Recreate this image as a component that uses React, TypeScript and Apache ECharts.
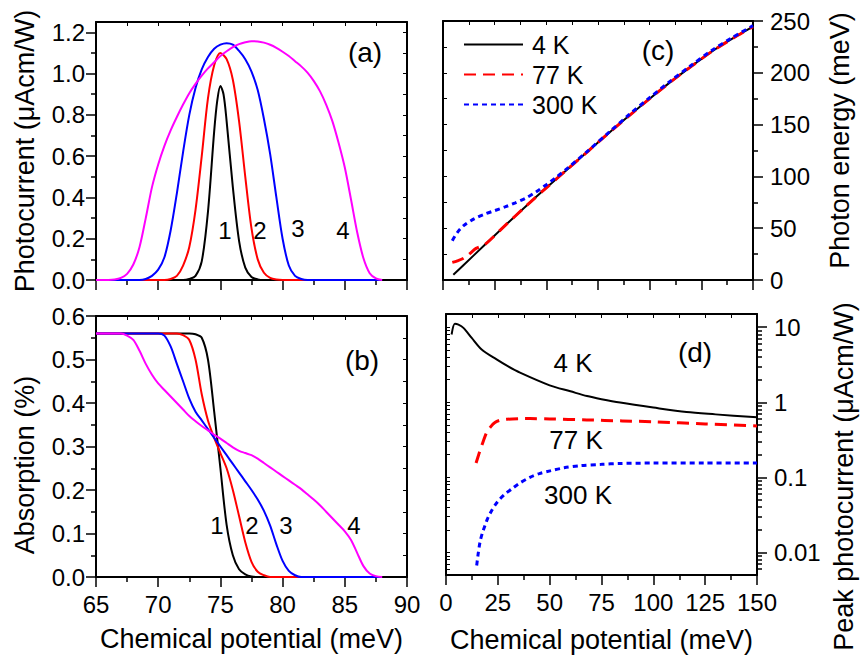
import React, { useEffect, useRef } from 'react';
import * as echarts from 'echarts';

const FONT = '"Liberation Sans", Arial, sans-serif';

// ---------- tick values ----------
const X_AB_MAJOR = [65, 70, 75, 80, 85, 90];
const X_AB_MINOR = [67.5, 72.5, 77.5, 82.5, 87.5];
const Y_A_MAJOR = [0, 0.2, 0.4, 0.6, 0.8, 1.0, 1.2];
const Y_A_MINOR = [0.1, 0.3, 0.5, 0.7, 0.9, 1.1];
const Y_B_MAJOR = [0, 0.1, 0.2, 0.3, 0.4, 0.5, 0.6];
const Y_B_MINOR = [0.05, 0.15, 0.25, 0.35, 0.45, 0.55];
const X_CD_MAJOR = [0, 25, 50, 75, 100, 125, 150];
const X_CD_MINOR = [12.5, 37.5, 62.5, 87.5, 112.5, 137.5];
const Y_C_MAJOR = [0, 50, 100, 150, 200, 250];
const Y_C_MINOR = [25, 75, 125, 175, 225];
const Y_D_MAJOR = [0.01, 0.1, 1, 10];
const Y_D_MINOR = [
  0.006, 0.007, 0.008, 0.009,
  0.02, 0.03, 0.04, 0.05, 0.06, 0.07, 0.08, 0.09,
  0.2, 0.3, 0.4, 0.5, 0.6, 0.7, 0.8, 0.9,
  2, 3, 4, 5, 6, 7, 8, 9,
];

// ---------- panel (a): photocurrent vs chemical potential ----------
const A1 = [[65, 0], [72, 0], [72.5, 0.005], [73, 0.02], [73.5, 0.09], [74, 0.33], [74.5, 0.72], [74.75, 0.87], [75, 0.94], [75.25, 0.9], [75.5, 0.77], [76, 0.45], [76.5, 0.19], [77, 0.06], [77.5, 0.015], [78, 0.003], [78.5, 0], [88, 0]];
const A2 = [[65, 0], [70.5, 0], [71, 0.005], [71.5, 0.02], [72, 0.07], [72.5, 0.16], [73, 0.34], [73.5, 0.6], [74, 0.88], [74.5, 1.04], [75, 1.1], [75.5, 1.07], [76, 0.97], [76.5, 0.77], [77, 0.5], [77.5, 0.25], [78, 0.1], [78.5, 0.035], [79, 0.01], [79.5, 0.002], [80, 0], [88, 0]];
const A3 = [[65, 0], [68.5, 0], [69, 0.005], [69.5, 0.02], [70, 0.05], [70.5, 0.11], [71, 0.24], [71.5, 0.42], [72, 0.62], [72.5, 0.8], [73, 0.93], [73.5, 1.02], [74, 1.08], [74.5, 1.12], [75, 1.14], [75.5, 1.147], [76, 1.14], [76.5, 1.11], [77, 1.07], [77.5, 1.01], [78, 0.92], [78.5, 0.78], [79, 0.61], [79.5, 0.4], [80, 0.2], [80.5, 0.07], [81, 0.02], [81.5, 0.005], [82, 0], [88, 0]];
const A4 = [[65, 0], [66, 0], [66.5, 0.002], [67, 0.01], [67.5, 0.03], [68, 0.075], [68.5, 0.16], [69, 0.3], [69.5, 0.45], [70, 0.56], [70.5, 0.65], [71, 0.725], [71.5, 0.79], [72, 0.85], [72.5, 0.905], [73, 0.95], [73.5, 0.99], [74, 1.025], [74.5, 1.055], [75, 1.085], [75.5, 1.108], [76, 1.128], [76.5, 1.143], [77, 1.152], [77.5, 1.157], [78, 1.156], [78.5, 1.15], [79, 1.14], [79.5, 1.125], [80, 1.106], [80.5, 1.085], [81, 1.06], [81.5, 1.035], [82, 1.005], [82.5, 0.965], [83, 0.915], [83.5, 0.85], [84, 0.77], [84.5, 0.665], [85, 0.545], [85.5, 0.39], [86, 0.23], [86.5, 0.105], [87, 0.033], [87.5, 0.008], [88, 0]];

// ---------- panel (b): absorption vs chemical potential ----------
const B1 = [[65, 0.56], [72.5, 0.56], [73, 0.558], [73.5, 0.55], [74, 0.5], [74.5, 0.38], [75, 0.25], [75.5, 0.12], [76, 0.05], [76.5, 0.018], [77, 0.006], [77.5, 0.001], [78, 0], [88, 0]];
const B2 = [[65, 0.56], [71.5, 0.56], [72, 0.556], [72.5, 0.545], [73, 0.5], [73.5, 0.42], [74, 0.36], [74.5, 0.32], [75, 0.285], [75.5, 0.25], [76, 0.2], [76.5, 0.14], [77, 0.08], [77.5, 0.035], [78, 0.012], [78.5, 0.004], [79, 0], [88, 0]];
const B3 = [[65, 0.56], [70, 0.56], [70.5, 0.555], [71, 0.53], [71.5, 0.49], [72, 0.45], [72.5, 0.41], [73, 0.38], [73.5, 0.36], [74, 0.34], [74.5, 0.32], [75, 0.3], [75.5, 0.28], [76, 0.26], [76.5, 0.24], [77, 0.22], [77.5, 0.2], [78, 0.178], [78.5, 0.152], [79, 0.118], [79.5, 0.075], [80, 0.037], [80.5, 0.014], [81, 0.004], [81.5, 0], [88, 0]];
const B4 = [[65, 0.56], [67, 0.56], [67.5, 0.555], [68, 0.545], [68.5, 0.52], [69, 0.49], [69.5, 0.465], [70, 0.445], [70.5, 0.43], [71, 0.415], [71.5, 0.4], [72, 0.385], [72.5, 0.37], [73, 0.358], [73.5, 0.347], [74, 0.337], [74.5, 0.327], [75, 0.318], [75.5, 0.308], [76, 0.298], [76.5, 0.29], [77, 0.285], [77.5, 0.28], [78, 0.272], [78.5, 0.262], [79, 0.252], [79.5, 0.242], [80, 0.232], [80.5, 0.222], [81, 0.212], [81.5, 0.202], [82, 0.19], [82.5, 0.178], [83, 0.165], [83.5, 0.15], [84, 0.135], [84.5, 0.12], [85, 0.105], [85.5, 0.085], [86, 0.055], [86.5, 0.025], [87, 0.008], [87.5, 0.002], [88, 0]];

// ---------- panel (c): photon energy vs chemical potential ----------
const C_4K = [[5, 5], [10, 14.5], [20, 33.5], [30, 52.5], [40, 71], [50, 89], [60, 106.5], [70, 124], [80, 141.5], [90, 158.5], [100, 175], [110, 191], [120, 206], [130, 220.5], [140, 233], [150, 244.5]];
const C_77K = [[4.5, 17], [7, 18.5], [10, 21], [13, 25.5], [16, 30.5], [20, 33.8], [30, 52.5], [40, 71], [50, 89], [60, 106.5], [70, 124], [80, 141.5], [90, 158.5], [100, 175], [110, 191], [120, 206], [130, 220.5], [140, 233], [150, 244.5]];
const C_300K = [[4.5, 38], [7, 46], [10, 52.5], [15, 59], [20, 63.5], [25, 67], [30, 70.5], [35, 74.5], [40, 79], [45, 85], [50, 92], [55, 99.5], [60, 107.5], [70, 124.5], [80, 142], [90, 159.5], [100, 176], [110, 192], [120, 207], [130, 221.5], [140, 234], [150, 245.5]];

// ---------- panel (d): peak photocurrent vs chemical potential ----------
const D_4K = [[2.7, 8.0], [4.3, 11.1], [6, 10.8], [8.4, 9.8], [12.4, 7.2], [17.2, 5.05], [24.4, 3.72], [30, 3.0], [35.7, 2.48], [50, 1.68], [60, 1.4], [68, 1.21], [75, 1.1], [84, 0.99], [100, 0.85], [116, 0.74], [130, 0.69], [150, 0.63]];
const D_77K = [[14.5, 0.155], [16, 0.21], [17.2, 0.263], [19.6, 0.395], [21.5, 0.47], [23.6, 0.537], [26, 0.575], [29.3, 0.594], [35, 0.605], [40.5, 0.607], [50, 0.6], [67.9, 0.582], [85, 0.565], [100, 0.549], [125, 0.515], [150, 0.483]];
const D_300K = [[14.8, 0.0067], [15.5, 0.0095], [16.4, 0.0137], [17.5, 0.018], [18.8, 0.0228], [20, 0.028], [22, 0.036], [24, 0.044], [26, 0.0515], [28.5, 0.06], [31.7, 0.07], [35, 0.082], [40.5, 0.1], [45, 0.112], [50.2, 0.122], [57, 0.134], [64.6, 0.143], [75, 0.149], [83.9, 0.153], [100, 0.155], [125, 0.155], [150, 0.155]];

const LEGEND_NAMES = ['4 K', '77 K', '300 K'];

// ---------- helpers ----------
const TICK_FONT = 24;
const NAME_FONT = 27;

type AxisCfg = {
  grid: number;
  type?: 'value' | 'log';
  min: number;
  max: number;
  major: number[];
  minor: number[];
  pos: string;
  mirrorPos: string;
  showLabels: boolean;
  labelMargin?: number;
  formatter?: (v: number) => string;
  name?: string;
  nameGap?: number;
  nameRotate?: number;
  namePadding?: number[];
};

function buildAxes(list: any[], c: AxisCfg): number {
  const base: any = {
    type: c.type || 'value',
    gridIndex: c.grid,
    min: c.min,
    max: c.max,
    splitLine: { show: false },
    minorTick: { show: false },
    minorSplitLine: { show: false },
  };
  if (c.type === 'log') base.logBase = 10;
  const idx = list.length;
  list.push({
    ...base,
    position: c.pos,
    axisLine: { show: true, onZero: false, lineStyle: { color: '#000', width: 2 } },
    axisTick: { show: true, inside: false, length: 10, customValues: c.major, lineStyle: { color: '#000', width: 1.5 } },
    axisLabel: {
      show: c.showLabels,
      customValues: c.major,
      margin: c.labelMargin ?? 12,
      color: '#000',
      fontSize: TICK_FONT,
      fontFamily: FONT,
      formatter: c.formatter,
      hideOverlap: false,
    },
    name: c.name,
    nameLocation: 'middle',
    nameGap: c.nameGap,
    nameRotate: c.nameRotate,
    nameMoveOverlap: false,
    nameTextStyle: { fontSize: NAME_FONT, color: '#000', fontFamily: FONT, padding: c.namePadding || 0 },
  });
  list.push({
    ...base,
    position: c.pos,
    axisLine: { show: false, onZero: false },
    axisTick: { show: true, inside: false, length: 5, customValues: c.minor, lineStyle: { color: '#000', width: 1.5 } },
    axisLabel: { show: false },
  });
  list.push({
    ...base,
    position: c.mirrorPos,
    axisLine: { show: true, onZero: false, lineStyle: { color: '#000', width: 2 } },
    axisTick: { show: true, inside: true, length: 4, customValues: c.major.concat(c.minor), lineStyle: { color: '#000', width: 1 } },
    axisLabel: { show: false },
  });
  return idx;
}

const fmt1 = (v: number) => v.toFixed(1);
const fmt0 = (v: number) => String(Math.round(v));
const fmtLog = (v: number) => String(Number(Number(v).toPrecision(3)));

function buildOption() {
  const xAxes: any[] = [];
  const yAxes: any[] = [];

  const xa = buildAxes(xAxes, { grid: 0, min: 65, max: 90, major: X_AB_MAJOR, minor: X_AB_MINOR, pos: 'bottom', mirrorPos: 'top', showLabels: false });
  const ya = buildAxes(yAxes, { grid: 0, min: 0, max: 1.25, major: Y_A_MAJOR, minor: Y_A_MINOR, pos: 'left', mirrorPos: 'right', showLabels: true, labelMargin: 11, formatter: fmt1, name: 'Photocurrent (\u03bcAcm/W)', nameGap: 58, nameRotate: 90 });
  const xb = buildAxes(xAxes, { grid: 1, min: 65, max: 90, major: X_AB_MAJOR, minor: X_AB_MINOR, pos: 'bottom', mirrorPos: 'top', showLabels: true, labelMargin: 15, formatter: fmt0, name: 'Chemical potential (meV)', nameGap: 48 });
  const yb = buildAxes(yAxes, { grid: 1, min: 0, max: 0.6, major: Y_B_MAJOR, minor: Y_B_MINOR, pos: 'left', mirrorPos: 'right', showLabels: true, labelMargin: 11, formatter: fmt1, name: 'Absorption (%)', nameGap: 58, nameRotate: 90, namePadding: [0, 37, 0, 0] });
  const xc = buildAxes(xAxes, { grid: 2, min: 0, max: 150, major: X_CD_MAJOR, minor: X_CD_MINOR, pos: 'bottom', mirrorPos: 'top', showLabels: false });
  const yc = buildAxes(yAxes, { grid: 2, min: 0, max: 250, major: Y_C_MAJOR, minor: Y_C_MINOR, pos: 'right', mirrorPos: 'left', showLabels: true, labelMargin: 17, formatter: fmt0, name: 'Photon energy (meV)', nameGap: 73, nameRotate: 90, namePadding: [0, 0, 0, 20] });
  const xd = buildAxes(xAxes, { grid: 3, min: 0, max: 150, major: X_CD_MAJOR, minor: X_CD_MINOR, pos: 'bottom', mirrorPos: 'top', showLabels: true, labelMargin: 15, formatter: fmt0, name: 'Chemical potential (meV)', nameGap: 51 });
  const yd = buildAxes(yAxes, { grid: 3, type: 'log', min: 0.005, max: 15, major: Y_D_MAJOR, minor: Y_D_MINOR, pos: 'right', mirrorPos: 'left', showLabels: true, labelMargin: 17, formatter: fmtLog, name: 'Peak photocurrent (\u03bcAcm/W)', nameGap: 73, nameRotate: 90, namePadding: [0, 64, 0, 0] });

  const line = (name: string, data: number[][], xi: number, yi: number, color: string, width: number, type: any, smooth: number | boolean) => ({
    type: 'line',
    name,
    data,
    xAxisIndex: xi,
    yAxisIndex: yi,
    symbol: 'none',
    showSymbol: false,
    smooth,
    lineStyle: { color, width, type },
    itemStyle: { color },
    z: 3,
  });

  const series: any[] = [
    line('a1', A1, xa, ya, '#000000', 2, 'solid', 0.3),
    line('a2', A2, xa, ya, '#ff0000', 2, 'solid', 0.3),
    line('a3', A3, xa, ya, '#0000ff', 2, 'solid', 0.3),
    line('a4', A4, xa, ya, '#ff00ff', 2, 'solid', 0.3),
    line('b1', B1, xb, yb, '#000000', 2, 'solid', 0.3),
    line('b2', B2, xb, yb, '#ff0000', 2, 'solid', 0.3),
    line('b3', B3, xb, yb, '#0000ff', 2, 'solid', 0.3),
    line('b4', B4, xb, yb, '#ff00ff', 2, 'solid', 0.3),
    line(LEGEND_NAMES[0], C_4K, xc, yc, '#000000', 2, 'solid', 0.3),
    line(LEGEND_NAMES[1], C_77K, xc, yc, '#ff0000', 3, [12, 7], 0.3),
    line(LEGEND_NAMES[2], C_300K, xc, yc, '#0000ff', 3, [5, 4], 0.3),
    line('d 4 K', D_4K, xd, yd, '#000000', 2, 'solid', 0.3),
    line('d 77 K', D_77K, xd, yd, '#ff0000', 3, [12, 7], 0.3),
    line('d 300 K', D_300K, xd, yd, '#0000ff', 3, [5, 4], 0.3),
  ];

  const txt = (text: string, x: number, y: number, size: number) => ({
    type: 'text',
    x,
    y,
    style: { text, fontSize: size, fontFamily: FONT, fill: '#000', align: 'center', verticalAlign: 'middle' },
    z: 10,
  });

  return {
    animation: false,
    backgroundColor: '#ffffff',
    textStyle: { fontFamily: FONT, color: '#000' },
    grid: [
      { left: 96, top: 22, width: 311, height: 258, outerBoundsMode: 'none', containLabel: false },
      { left: 96, top: 316, width: 311, height: 261, outerBoundsMode: 'none', containLabel: false },
      { left: 443, top: 21, width: 310, height: 259, outerBoundsMode: 'none', containLabel: false },
      { left: 446, top: 314, width: 311, height: 261, outerBoundsMode: 'none', containLabel: false },
    ],
    xAxis: xAxes,
    yAxis: yAxes,
    legend: {
      data: LEGEND_NAMES,
      orient: 'vertical',
      left: 458,
      top: 27,
      itemWidth: 59,
      itemHeight: 14,
      itemGap: 5,
      selectedMode: false,
      itemStyle: { opacity: 0 },
      textStyle: { fontSize: 25, color: '#000', fontFamily: FONT, padding: [0, 0, 0, 4] },
    },
    series,
    graphic: [
      txt('(a)', 365, 52, 28),
      txt('(b)', 362, 360, 28),
      txt('(c)', 658, 50, 28),
      txt('(d)', 695, 352, 28),
      txt('1', 225, 230, 24),
      txt('2', 260, 230, 24),
      txt('3', 298, 228, 24),
      txt('4', 343, 230, 24),
      txt('1', 217, 525, 24),
      txt('2', 252, 525, 24),
      txt('3', 286, 525, 24),
      txt('4', 354, 525, 24),
      txt('4 K', 573, 363, 26),
      txt('77 K', 576, 440, 26),
      txt('300 K', 578, 495, 26),
    ],
  };
}

export default function App() {
  const ref = useRef<HTMLDivElement>(null);
  useEffect(() => {
    document.body.style.margin = '0';
    const chart = echarts.init(ref.current as HTMLDivElement, null, { renderer: 'svg' });
    chart.setOption(buildOption() as any);
    return () => chart.dispose();
  }, []);
  return <div ref={ref} style={{ width: 862, height: 663 }} />;
}
